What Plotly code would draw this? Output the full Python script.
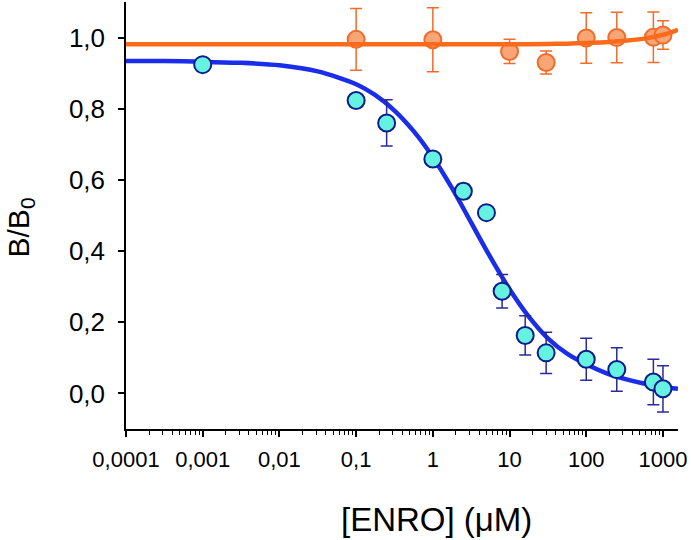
import plotly.graph_objects as go

# ---- data ----
blue_x = [0.001, 0.1, 0.25, 1, 2.5, 5, 8, 16, 30, 100, 250, 750, 1000]
blue_y = [0.924, 0.823, 0.760, 0.659, 0.568, 0.508, 0.287, 0.163, 0.114, 0.096, 0.067, 0.032, 0.013]
blue_err = [0.010, 0.010, 0.065, 0.015, 0.020, 0.015, 0.047, 0.055, 0.058, 0.059, 0.061, 0.064, 0.065]

orange_x = [0.1, 1, 10, 30, 100, 250, 750, 1000]
orange_y = [0.995, 0.994, 0.961, 0.930, 0.999, 1.000, 1.001, 1.007]
orange_err = [0.087, 0.090, 0.034, 0.032, 0.071, 0.071, 0.071, 0.040]

# fitted curves
blue_fit_x = [0.0001, 0.000316, 0.001, 0.00316, 0.01, 0.0316, 0.1, 0.178, 0.316, 0.562,
              1, 1.78, 3.16, 5.62, 10, 17.8, 31.6, 56.2, 100, 178, 316, 562, 1000, 1570]
blue_fit_y = [0.934, 0.934, 0.932, 0.929, 0.922, 0.905, 0.869, 0.838, 0.795, 0.737,
              0.664, 0.577, 0.480, 0.383, 0.293, 0.216, 0.155, 0.112, 0.082, 0.058,
              0.041, 0.028, 0.019, 0.013]

orange_fit_x = [0.0001, 0.01, 1, 10, 31.6, 56.2, 100, 178, 316, 562, 1000, 1570]
orange_fit_y = [0.981, 0.981, 0.981, 0.981, 0.982, 0.983, 0.985, 0.987, 0.991, 0.997, 1.008, 1.022]

x_tickvals = [0.0001, 0.001, 0.01, 0.1, 1, 10, 100, 1000]
x_ticktext = ["0,0001", "0,001", "0,01", "0,1", "1", "10", "100", "1000"]
x_minor = [m * 10 ** e for e in range(-4, 4) for m in range(2, 10) if m * 10 ** e < 1580]
y_tickvals = [0.0, 0.2, 0.4, 0.6, 0.8, 1.0]
y_ticktext = ["0,0", "0,2", "0,4", "0,6", "0,8", "1,0"]

FONT = "Liberation Sans, Arial, sans-serif"

fig = go.Figure()

fig.add_trace(go.Scatter(
    x=blue_fit_x, y=blue_fit_y, mode="lines",
    line=dict(color="#1A2DEA", width=4.5, shape="spline", smoothing=0.8),
    hoverinfo="skip"))

fig.add_trace(go.Scatter(
    x=blue_x, y=blue_y, mode="markers",
    error_y=dict(type="data", array=blue_err, color="#2A2A9C", thickness=1.5, width=6),
    marker=dict(size=17, color="#66F2E0", line=dict(color="#0B1C8C", width=2))))

fig.add_trace(go.Scatter(
    x=orange_x, y=orange_y, mode="markers",
    error_y=dict(type="data", array=orange_err, color="#F26B2A", thickness=1.5, width=6),
    marker=dict(size=17, color="#F9A676", line=dict(color="#F26B2A", width=2))))

fig.add_trace(go.Scatter(
    x=orange_fit_x, y=orange_fit_y, mode="lines",
    line=dict(color="#FF6A1A", width=4.5, shape="spline", smoothing=0.8),
    hoverinfo="skip"))

fig.update_layout(
    width=691, height=540,
    margin=dict(l=126, r=13, t=2, b=111),
    paper_bgcolor="white", plot_bgcolor="white",
    showlegend=False,
    font=dict(family=FONT, color="black"),
    xaxis=dict(
        type="log", range=[-4, 3.196],
        tickvals=x_tickvals, ticktext=x_ticktext,
        ticks="outside", ticklen=6, tickwidth=1.5, tickcolor="black",
        minor=dict(tickvals=x_minor, ticks="outside", ticklen=4, tickwidth=1, tickcolor="black", showgrid=False),
        showline=True, linecolor="black", linewidth=1.5,
        showgrid=False, zeroline=False,
        tickfont=dict(size=22, family=FONT, color="black"),
        ticklabelstandoff=4,
    ),
    yaxis=dict(
        range=[-0.1, 1.1],
        tickvals=y_tickvals, ticktext=y_ticktext,
        ticks="outside", ticklen=6, tickwidth=1.5, tickcolor="black",
        showline=True, linecolor="black", linewidth=1.5,
        showgrid=False, zeroline=False,
        tickfont=dict(size=26, family=FONT, color="black"),
        ticklabelstandoff=8,
    ),
    annotations=[
        dict(text="[ENRO] (\u03bcM)", xref="paper", yref="paper",
             x=0.5616, y=-0.213, xanchor="center", yanchor="middle",
             showarrow=False, font=dict(size=33, family=FONT, color="black")),
        dict(text="B/B<sub>0</sub>", xref="paper", yref="paper",
             x=-0.192, y=0.472, xanchor="center", yanchor="middle", textangle=-90,
             showarrow=False, font=dict(size=30, family=FONT, color="black")),
    ],
)

fig.write_html("out.html",
               config={"displayModeBar": False},
               post_script="document.body.style.margin='0';document.body.style.padding='0';")
